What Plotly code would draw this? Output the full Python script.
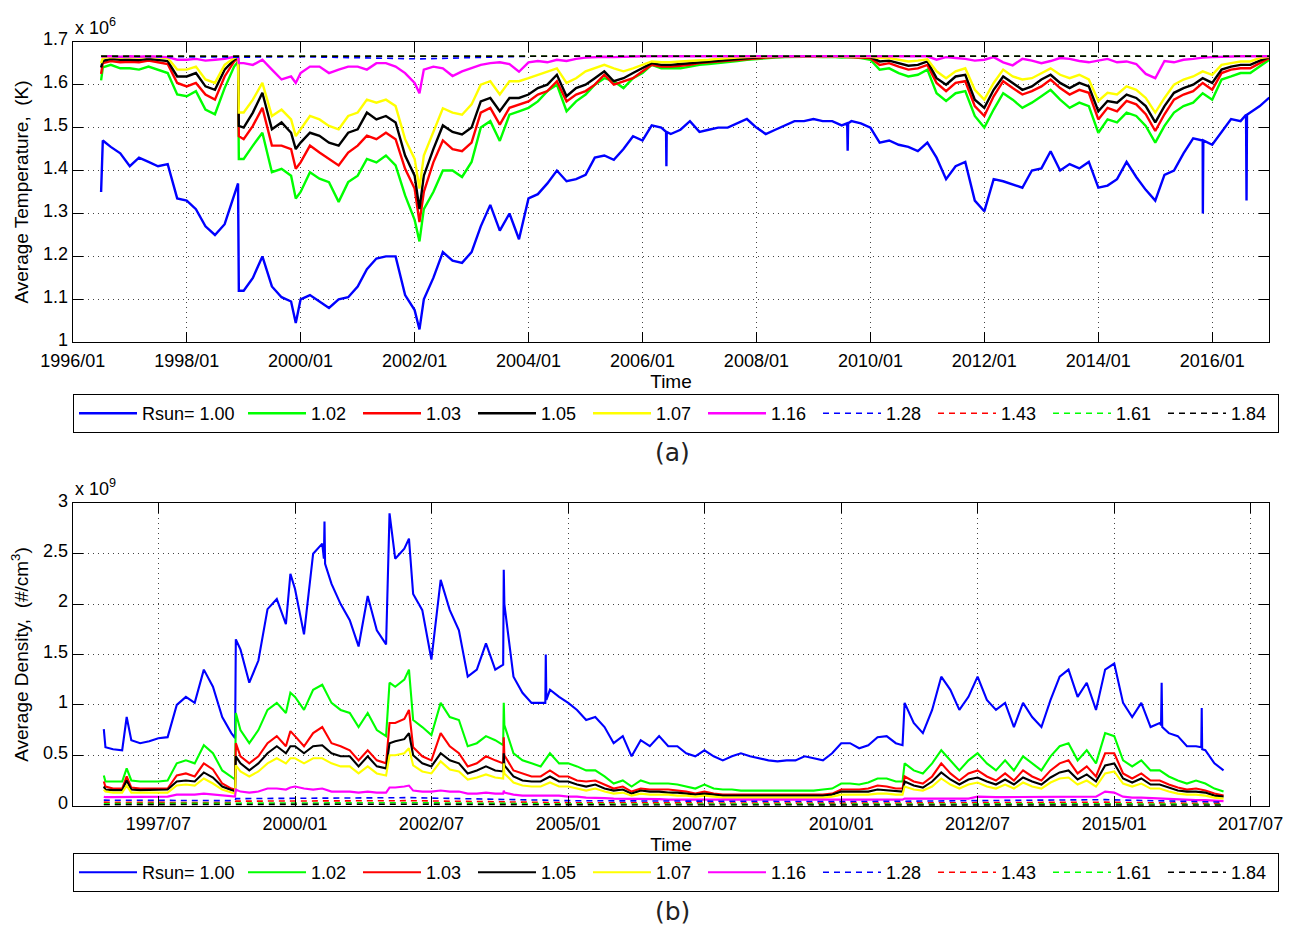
import pandas as pd
import plotly.graph_objects as go

# ---------------- sampling grid (every 2 months) + extra sample dates ----------------
BASE_START, BASE_END = "1996-07-01", "2017-01-01"
EXTRA_A = ["1996-07-12", "1998-11-26", "1998-12-01", "1999-12-01", "2002-02-01"]
EXTRA_B = ["1996-07-12", "1996-12-01", "1998-11-26", "1998-12-01", "1999-12-01",
           "2001-09-24", "2002-02-01", "2003-10-24", "2003-10-28", "2011-02-15"]

LABELS = ["Rsun= 1.00", "1.02", "1.03", "1.05", "1.07", "1.16", "1.28", "1.43", "1.61", "1.84"]

# ---------------- Panel (a): average temperature, units of 10^6 K ----------------
TEMP_100 = [
    1.35, 1.47, 1.455, 1.44,
    1.41, 1.43, 1.42, 1.41, 1.415, 1.335,
    1.33, 1.31, 1.27, 1.25, 1.275, 1.345, 1.37, 1.12,
    1.12, 1.15, 1.20, 1.13, 1.105, 1.095, 1.045,
    1.10, 1.11, 1.095, 1.08, 1.10, 1.105,
    1.13, 1.17, 1.195, 1.20, 1.20, 1.11,
    1.075, 1.03, 1.10, 1.15, 1.21, 1.19, 1.185,
    1.21, 1.27, 1.32, 1.26, 1.30, 1.24,
    1.335, 1.345, 1.37, 1.40, 1.375, 1.38,
    1.39, 1.43, 1.435, 1.425, 1.45, 1.48,
    1.47, 1.505, 1.50, 1.485, 1.495, 1.515,
    1.49, 1.495, 1.50, 1.50, 1.51, 1.52,
    1.50, 1.485, 1.495, 1.505, 1.515, 1.515,
    1.52, 1.515, 1.515, 1.505, 1.515, 1.51,
    1.50, 1.465, 1.47, 1.46, 1.455, 1.445,
    1.465, 1.43, 1.38, 1.41, 1.42, 1.33,
    1.305, 1.38, 1.375, 1.368, 1.36, 1.40,
    1.405, 1.445, 1.40, 1.415, 1.405, 1.42,
    1.36, 1.365, 1.38, 1.42, 1.385, 1.355,
    1.33, 1.39, 1.40, 1.44, 1.475, 1.47,
    1.46, 1.49, 1.52, 1.515, 1.535, 1.55,
    1.57,
]
TEMP_100_SPIKE_DATES = ["2006-06-01", "2006-06-03", "2006-06-05", "2009-08-05", "2009-08-08", "2009-08-11",
                        "2015-10-30", "2015-11-02", "2015-11-05", "2016-08-05", "2016-08-08", "2016-08-11"]
TEMP_100_SPIKE_VALS = [1.49, 1.41, 1.49, 1.51, 1.446, 1.51, 1.47, 1.30, 1.47, 1.53, 1.33, 1.53]

TEMP_102 = [
    1.61, 1.64, 1.646, 1.638,
    1.638, 1.635, 1.642, 1.635, 1.627, 1.577,
    1.573, 1.585, 1.542, 1.531, 1.592, 1.642, 1.654, 1.427,
    1.427, 1.458, 1.488, 1.396, 1.404, 1.388, 1.335,
    1.35, 1.396, 1.381, 1.373, 1.327, 1.373,
    1.388, 1.427, 1.419, 1.435, 1.412, 1.342,
    1.285, 1.235, 1.31, 1.35, 1.40, 1.40, 1.385,
    1.42, 1.50, 1.515, 1.469, 1.53, 1.538,
    1.546, 1.561, 1.585, 1.60, 1.538, 1.561,
    1.577, 1.60, 1.615, 1.608, 1.592, 1.615,
    1.627, 1.646, 1.638, 1.638, 1.638, 1.642,
    1.646, 1.648, 1.65, 1.652, 1.655, 1.658,
    1.66, 1.662, 1.663, 1.664, 1.665, 1.665,
    1.665, 1.664, 1.665, 1.663, 1.664, 1.662,
    1.658, 1.635, 1.638, 1.627, 1.619, 1.623,
    1.635, 1.58, 1.562, 1.58, 1.585, 1.527,
    1.50, 1.542, 1.58, 1.565, 1.546, 1.558,
    1.573, 1.588, 1.565, 1.546, 1.558, 1.55,
    1.488, 1.519, 1.512, 1.535, 1.527, 1.504,
    1.465, 1.504, 1.535, 1.55, 1.558, 1.58,
    1.565, 1.612, 1.619, 1.627, 1.627, 1.642,
    1.658,
]

TEMP_103 = [
    1.625, 1.65, 1.655, 1.652,
    1.653, 1.652, 1.656, 1.652, 1.648, 1.604,
    1.596, 1.604, 1.577, 1.565, 1.619, 1.654, 1.662, 1.48,
    1.473, 1.504, 1.546, 1.458, 1.458, 1.45, 1.404,
    1.419, 1.458, 1.442, 1.427, 1.412, 1.442,
    1.458, 1.481, 1.473, 1.488, 1.473, 1.404,
    1.358, 1.28, 1.35, 1.419, 1.47, 1.45, 1.445,
    1.465, 1.535, 1.546, 1.507, 1.546, 1.554,
    1.561, 1.577, 1.585, 1.608, 1.561, 1.577,
    1.585, 1.60, 1.623, 1.60, 1.608, 1.615,
    1.631, 1.646, 1.642, 1.642, 1.644, 1.646,
    1.65, 1.652, 1.654, 1.656, 1.658, 1.66,
    1.662, 1.663, 1.664, 1.665, 1.666, 1.666,
    1.666, 1.665, 1.666, 1.665, 1.665, 1.664,
    1.662, 1.646, 1.65, 1.642, 1.635, 1.638,
    1.646, 1.604, 1.585, 1.604, 1.608, 1.55,
    1.527, 1.573, 1.608, 1.592, 1.577, 1.585,
    1.596, 1.612, 1.592, 1.577, 1.588, 1.581,
    1.519, 1.546, 1.538, 1.562, 1.554, 1.531,
    1.492, 1.531, 1.565, 1.577, 1.585, 1.604,
    1.588, 1.627, 1.635, 1.638, 1.638, 1.65,
    1.662,
]

TEMP_105 = [
    1.64, 1.655, 1.66, 1.658,
    1.658, 1.657, 1.66, 1.657, 1.655, 1.619,
    1.619, 1.627, 1.596, 1.588, 1.635, 1.658, 1.664, 1.504,
    1.50, 1.535, 1.581, 1.496, 1.512, 1.488, 1.45,
    1.465, 1.488, 1.481, 1.465, 1.458, 1.488,
    1.496, 1.535, 1.519, 1.527, 1.512, 1.435,
    1.388, 1.31, 1.388, 1.45, 1.505, 1.49, 1.484,
    1.50, 1.561, 1.569, 1.538, 1.569, 1.569,
    1.577, 1.592, 1.60, 1.623, 1.573, 1.592,
    1.60, 1.615, 1.631, 1.608, 1.615, 1.627,
    1.638, 1.65, 1.646, 1.646, 1.648, 1.65,
    1.652, 1.654, 1.656, 1.658, 1.66, 1.662,
    1.664, 1.665, 1.666, 1.666, 1.666, 1.666,
    1.666, 1.666, 1.666, 1.666, 1.666, 1.665,
    1.664, 1.654, 1.656, 1.65, 1.644, 1.646,
    1.654, 1.615, 1.60, 1.619, 1.623, 1.565,
    1.546, 1.588, 1.619, 1.604, 1.588, 1.596,
    1.612, 1.623, 1.604, 1.592, 1.604, 1.596,
    1.538, 1.562, 1.558, 1.577, 1.569, 1.55,
    1.512, 1.55, 1.581, 1.592, 1.60, 1.615,
    1.604, 1.635, 1.642, 1.646, 1.646, 1.656,
    1.664,
]

TEMP_107 = [
    1.65, 1.662, 1.664, 1.663,
    1.664, 1.663, 1.665, 1.663, 1.662, 1.635,
    1.635, 1.642, 1.612, 1.604, 1.646, 1.662, 1.665, 1.535,
    1.535, 1.565, 1.604, 1.527, 1.542, 1.519, 1.48,
    1.496, 1.527, 1.519, 1.504, 1.496, 1.527,
    1.535, 1.565, 1.558, 1.565, 1.55, 1.473,
    1.427, 1.358, 1.435, 1.488, 1.545, 1.535, 1.53,
    1.554, 1.60, 1.608, 1.577, 1.608, 1.608,
    1.615, 1.623, 1.631, 1.638, 1.604, 1.615,
    1.631, 1.638, 1.646, 1.638, 1.631, 1.638,
    1.646, 1.654, 1.652, 1.652, 1.654, 1.655,
    1.657, 1.658, 1.66, 1.662, 1.663, 1.664,
    1.665, 1.666, 1.666, 1.666, 1.666, 1.666,
    1.666, 1.666, 1.666, 1.666, 1.666, 1.666,
    1.665, 1.662, 1.662, 1.658, 1.654, 1.656,
    1.659, 1.631, 1.615, 1.631, 1.638, 1.588,
    1.565, 1.604, 1.635, 1.619, 1.612, 1.615,
    1.627, 1.638, 1.623, 1.615, 1.623, 1.612,
    1.562, 1.581, 1.577, 1.596, 1.588, 1.569,
    1.535, 1.569, 1.60, 1.612, 1.619, 1.631,
    1.623, 1.646, 1.65, 1.654, 1.654, 1.662,
    1.665,
]

TEMP_116 = [
    1.665, 1.666, 1.666, 1.665,
    1.666, 1.665, 1.666, 1.665, 1.664, 1.658,
    1.658, 1.66, 1.656, 1.658, 1.66, 1.665, 1.666, 1.65,
    1.65, 1.646, 1.658, 1.635, 1.612, 1.619, 1.604,
    1.627, 1.642, 1.642, 1.627, 1.635, 1.642,
    1.642, 1.635, 1.65, 1.65, 1.642, 1.627,
    1.604, 1.58, 1.635, 1.642, 1.638, 1.62, 1.631,
    1.638, 1.646, 1.65, 1.652, 1.648, 1.63,
    1.652, 1.655, 1.652, 1.658, 1.655, 1.66,
    1.663, 1.664, 1.665, 1.664, 1.665, 1.666,
    1.666, 1.666, 1.666, 1.666, 1.666, 1.666,
    1.666, 1.666, 1.666, 1.666, 1.666, 1.666,
    1.666, 1.666, 1.666, 1.666, 1.666, 1.666,
    1.666, 1.666, 1.666, 1.666, 1.666, 1.666,
    1.666, 1.666, 1.666, 1.666, 1.665, 1.666,
    1.666, 1.658, 1.664, 1.662, 1.66, 1.656,
    1.658, 1.664, 1.652, 1.645, 1.66, 1.656,
    1.65, 1.655, 1.662, 1.66, 1.655, 1.652,
    1.656, 1.66, 1.652, 1.654, 1.648, 1.625,
    1.615, 1.655, 1.652, 1.658, 1.66, 1.663,
    1.664, 1.665, 1.666, 1.666, 1.666, 1.666,
    1.666,
]

DASH_A_DATES = ["1996-07-01", "1998-12-01", "2000-01-01", "2002-02-01", "2004-01-01",
                "2008-01-01", "2012-01-01", "2017-01-01"]
TEMP_128 = [1.666, 1.664, 1.665, 1.660, 1.666, 1.666, 1.666, 1.666]
TEMP_143 = [1.666, 1.666, 1.666, 1.666, 1.666, 1.666, 1.666, 1.666]
TEMP_161 = [1.666, 1.666, 1.666, 1.666, 1.666, 1.666, 1.666, 1.666]
TEMP_184 = [1.666, 1.666, 1.666, 1.666, 1.666, 1.666, 1.666, 1.666]

# ---------------- Panel (b): average density, units of 10^9 /cm^3 ----------------
DENS_100 = [
    0.76, 0.58, 0.56, 0.55, 0.88,
    0.65, 0.62, 0.64, 0.67, 0.68, 1.0,
    1.08, 1.02, 1.35, 1.18, 0.88, 0.72, 0.67, 1.65,
    1.55, 1.22, 1.44, 1.95, 2.05, 1.80, 2.30,
    2.15, 1.7, 2.5, 2.6, 2.2, 2.0,
    1.84, 1.58, 2.08, 1.74, 1.6, 2.9, 2.45,
    2.55, 2.65, 2.1, 1.94, 1.45, 2.24, 1.94,
    1.74, 1.28, 1.35, 1.61, 1.35, 1.4, 2.34, 2.0,
    1.28, 1.12, 1.02, 1.02, 1.15, 1.08,
    1.02, 0.95, 0.85, 0.88, 0.78, 0.62,
    0.69, 0.49, 0.65, 0.59, 0.69, 0.59,
    0.59, 0.52, 0.49, 0.55, 0.49, 0.45,
    0.49, 0.52, 0.49, 0.47, 0.45, 0.44,
    0.45, 0.45, 0.49, 0.47, 0.45, 0.52,
    0.62, 0.62, 0.57, 0.6, 0.68, 0.69,
    0.62, 0.6, 1.02, 0.82, 0.72, 0.95, 1.28,
    1.15, 0.95, 1.08, 1.28, 1.05, 0.95,
    1.02, 0.78, 1.02, 0.88, 0.78, 1.05,
    1.28, 1.35, 1.08, 1.22, 0.95, 1.35,
    1.41, 1.02, 0.88, 1.02, 0.78, 0.82,
    0.72, 0.69, 0.59, 0.59, 0.55, 0.42,
    0.35,
]
DENS_100_SPIKE_DATES = ["2000-07-12", "2000-07-16", "2000-07-20", "2004-08-01", "2004-08-04", "2004-08-08",
                        "2015-11-10", "2015-11-14", "2015-11-18", "2016-08-05", "2016-08-08", "2016-08-11"]
DENS_100_SPIKE_VALS = [2.45, 2.82, 2.4, 1.02, 1.5, 1.05, 0.8, 1.22, 0.78, 0.58, 0.97, 0.56]

DENS_102 = [
    0.30, 0.24, 0.24, 0.24, 0.37,
    0.25, 0.24, 0.24, 0.24, 0.25, 0.42,
    0.45, 0.42, 0.6, 0.52, 0.35, 0.28, 0.26, 0.92,
    0.75, 0.62, 0.75, 0.95, 1.02, 0.92, 1.12,
    1.08, 0.95, 1.15, 1.2, 1.02, 0.95,
    0.92, 0.78, 0.92, 0.75, 0.69, 1.22, 1.18,
    1.25, 1.35, 0.85, 0.78, 0.7, 1.02, 0.88,
    0.85, 0.59, 0.62, 0.69, 0.65, 0.6, 1.02, 0.8,
    0.52, 0.45, 0.42, 0.39, 0.52, 0.42,
    0.42, 0.39, 0.35, 0.35, 0.29, 0.22,
    0.25, 0.19, 0.25, 0.22, 0.22, 0.22,
    0.21, 0.19, 0.17, 0.21, 0.17, 0.16,
    0.16, 0.15, 0.15, 0.15, 0.15, 0.15,
    0.15, 0.15, 0.15, 0.15, 0.16, 0.17,
    0.22, 0.22, 0.21, 0.23, 0.27, 0.27,
    0.24, 0.24, 0.42, 0.35, 0.32, 0.42, 0.55,
    0.45, 0.35, 0.45, 0.52, 0.42, 0.35,
    0.45, 0.35, 0.49, 0.42, 0.35, 0.49,
    0.59, 0.62, 0.45, 0.55, 0.42, 0.72,
    0.69, 0.45, 0.39, 0.45, 0.35, 0.35,
    0.29, 0.25, 0.22, 0.25, 0.22, 0.17,
    0.14,
]

DENS_103 = [
    0.24, 0.19, 0.17, 0.17, 0.29,
    0.18, 0.17, 0.17, 0.17, 0.17, 0.30,
    0.32, 0.29, 0.42, 0.36, 0.22, 0.17, 0.16, 0.62,
    0.49, 0.42, 0.49, 0.62, 0.69, 0.59, 0.74,
    0.69, 0.59, 0.72, 0.78, 0.62, 0.59,
    0.55, 0.45, 0.55, 0.45, 0.42, 0.82, 0.82,
    0.86, 0.95, 0.58, 0.49, 0.45, 0.72, 0.59,
    0.52, 0.39, 0.42, 0.49, 0.45, 0.42, 0.68, 0.5,
    0.35, 0.32, 0.29, 0.29, 0.35, 0.29,
    0.29, 0.25, 0.24, 0.25, 0.21, 0.17,
    0.19, 0.14, 0.17, 0.16, 0.16, 0.16,
    0.15, 0.14, 0.12, 0.14, 0.12, 0.11,
    0.11, 0.11, 0.11, 0.11, 0.11, 0.11,
    0.11, 0.11, 0.11, 0.11, 0.11, 0.12,
    0.16, 0.16, 0.16, 0.17, 0.2, 0.19,
    0.17, 0.17, 0.29, 0.24, 0.22, 0.29, 0.42,
    0.32, 0.25, 0.32, 0.35, 0.29, 0.25,
    0.32, 0.25, 0.35, 0.29, 0.25, 0.35,
    0.42, 0.45, 0.32, 0.39, 0.29, 0.52,
    0.52, 0.32, 0.27, 0.32, 0.25, 0.25,
    0.21, 0.18, 0.16, 0.17, 0.15, 0.12,
    0.10,
]

DENS_105 = [
    0.19, 0.16, 0.155, 0.155, 0.25,
    0.16, 0.155, 0.155, 0.16, 0.16, 0.24,
    0.25, 0.24, 0.33, 0.28, 0.19, 0.155, 0.145, 0.49,
    0.42, 0.35, 0.42, 0.52, 0.59, 0.52, 0.59,
    0.59, 0.52, 0.59, 0.6, 0.52, 0.49,
    0.49, 0.39, 0.49, 0.39, 0.37, 0.62, 0.64,
    0.66, 0.72, 0.5, 0.42, 0.39, 0.52, 0.45,
    0.42, 0.32, 0.35, 0.39, 0.35, 0.34, 0.52, 0.4,
    0.29, 0.25, 0.24, 0.24, 0.29, 0.24,
    0.24, 0.21, 0.19, 0.21, 0.17, 0.15,
    0.16, 0.12, 0.15, 0.14, 0.14, 0.13,
    0.13, 0.12, 0.11, 0.12, 0.11, 0.10,
    0.10, 0.10, 0.10, 0.10, 0.10, 0.10,
    0.10, 0.10, 0.10, 0.10, 0.10, 0.11,
    0.14, 0.14, 0.14, 0.14, 0.16, 0.15,
    0.14, 0.14, 0.24, 0.2, 0.18, 0.24, 0.33,
    0.26, 0.21, 0.26, 0.28, 0.24, 0.21,
    0.26, 0.21, 0.28, 0.24, 0.21, 0.28,
    0.33, 0.35, 0.26, 0.31, 0.24, 0.40,
    0.42, 0.27, 0.23, 0.27, 0.21, 0.21,
    0.18, 0.15, 0.14, 0.14, 0.13, 0.10,
    0.09,
]

DENS_107 = [
    0.16, 0.14, 0.13, 0.13, 0.2,
    0.13, 0.13, 0.13, 0.13, 0.13, 0.2,
    0.21, 0.2, 0.27, 0.22, 0.16, 0.13, 0.12, 0.40,
    0.34, 0.29, 0.34, 0.42, 0.47, 0.42, 0.47,
    0.47, 0.42, 0.47, 0.47, 0.42, 0.39,
    0.39, 0.32, 0.39, 0.32, 0.3, 0.5, 0.5,
    0.52, 0.57, 0.4, 0.34, 0.32, 0.44, 0.36,
    0.34, 0.26, 0.28, 0.31, 0.28, 0.27, 0.42, 0.32,
    0.23, 0.2, 0.19, 0.19, 0.23, 0.19,
    0.19, 0.17, 0.15, 0.17, 0.14, 0.12,
    0.13, 0.10, 0.12, 0.11, 0.11, 0.11,
    0.10, 0.10, 0.09, 0.10, 0.09, 0.08,
    0.08, 0.08, 0.08, 0.08, 0.08, 0.08,
    0.08, 0.08, 0.08, 0.08, 0.08, 0.09,
    0.11, 0.11, 0.11, 0.11, 0.12, 0.12,
    0.11, 0.11, 0.19, 0.16, 0.15, 0.19, 0.27,
    0.21, 0.17, 0.21, 0.23, 0.19, 0.17,
    0.21, 0.17, 0.23, 0.19, 0.17, 0.23,
    0.27, 0.28, 0.21, 0.25, 0.19, 0.32,
    0.34, 0.22, 0.19, 0.22, 0.17, 0.17,
    0.14, 0.12, 0.11, 0.11, 0.10, 0.08,
    0.07,
]

DENS_116 = [
    0.09, 0.085, 0.085, 0.085, 0.09,
    0.085, 0.085, 0.085, 0.085, 0.09, 0.11,
    0.11, 0.11, 0.12, 0.11, 0.10, 0.09, 0.09, 0.16,
    0.14, 0.13, 0.14, 0.17, 0.17, 0.16, 0.18,
    0.19, 0.17, 0.16, 0.17, 0.14, 0.14,
    0.14, 0.13, 0.14, 0.13, 0.13, 0.18, 0.18,
    0.19, 0.2, 0.15, 0.14, 0.14, 0.15, 0.14,
    0.14, 0.12, 0.12, 0.13, 0.12, 0.12, 0.15, 0.13,
    0.11, 0.10, 0.10, 0.10, 0.10, 0.10,
    0.09, 0.09, 0.08, 0.08, 0.075, 0.07,
    0.07, 0.065, 0.065, 0.065, 0.065, 0.06,
    0.06, 0.06, 0.06, 0.06, 0.06, 0.055,
    0.055, 0.055, 0.055, 0.055, 0.055, 0.055,
    0.055, 0.055, 0.055, 0.055, 0.055, 0.055,
    0.06, 0.06, 0.06, 0.06, 0.06, 0.06,
    0.06, 0.06, 0.07, 0.07, 0.07, 0.07, 0.075,
    0.075, 0.07, 0.07, 0.09, 0.085, 0.085,
    0.085, 0.085, 0.085, 0.085, 0.085, 0.085,
    0.09, 0.09, 0.085, 0.09, 0.09, 0.14,
    0.13, 0.09, 0.08, 0.08, 0.075, 0.07,
    0.065, 0.06, 0.06, 0.055, 0.055, 0.05,
    0.045,
]

DASH_B_DATES = ["1996-07-01", "1998-11-26", "1998-12-01", "2002-02-01", "2005-01-01",
                "2010-01-01", "2014-11-01", "2017-01-01"]
DENS_128 = [0.055, 0.05, 0.07, 0.08, 0.05, 0.04, 0.06, 0.035]
DENS_143 = [0.035, 0.03, 0.045, 0.05, 0.03, 0.025, 0.035, 0.02]
DENS_161 = [0.02, 0.018, 0.025, 0.03, 0.018, 0.015, 0.02, 0.012]
DENS_184 = [0.01, 0.008, 0.012, 0.015, 0.008, 0.006, 0.01, 0.005]

# ---------------- axis ticks ----------------
XA_TICKS = ["1996-01-01", "1998-01-01", "2000-01-01", "2002-01-01", "2004-01-01", "2006-01-01",
            "2008-01-01", "2010-01-01", "2012-01-01", "2014-01-01", "2016-01-01"]
XA_TICKTEXT = ["1996/01", "1998/01", "2000/01", "2002/01", "2004/01", "2006/01",
               "2008/01", "2010/01", "2012/01", "2014/01", "2016/01"]
XB_TICKS = ["1997-07-01", "2000-01-01", "2002-07-01", "2005-01-01", "2007-07-01",
            "2010-01-01", "2012-07-01", "2015-01-01", "2017-07-01"]
XB_TICKTEXT = ["1997/07", "2000/01", "2002/07", "2005/01", "2007/07",
               "2010/01", "2012/07", "2015/01", "2017/07"]
YA_TICKS = [1.0, 1.1, 1.2, 1.3, 1.4, 1.5, 1.6, 1.7]
YA_TICKTEXT = ["1", "1.1", "1.2", "1.3", "1.4", "1.5", "1.6", "1.7"]
YB_TICKS = [0, 0.5, 1, 1.5, 2, 2.5, 3]
YB_TICKTEXT = ["0", "0.5", "1", "1.5", "2", "2.5", "3"]

# ---------------- build ----------------
def make_grid(extra):
    d = list(pd.date_range(BASE_START, BASE_END, freq="2MS")) + list(pd.to_datetime(extra))
    return sorted(d)

def with_spikes(dates, vals, sdates, svals):
    pairs = sorted(zip(list(dates) + list(pd.to_datetime(sdates)), list(vals) + list(svals)))
    return [p[0] for p in pairs], [p[1] for p in pairs]

grid_a = make_grid(EXTRA_A)
grid_b = make_grid(EXTRA_B)
for s in [TEMP_100, TEMP_102, TEMP_103, TEMP_105, TEMP_107, TEMP_116]:
    assert len(s) == len(grid_a), (len(s), len(grid_a))
for s in [DENS_100, DENS_102, DENS_103, DENS_105, DENS_107, DENS_116]:
    assert len(s) == len(grid_b), (len(s), len(grid_b))

COLORS = ["#0000FF", "#00FF00", "#FF0000", "#000000", "#FFFF00", "#FF00FF",
          "#0000FF", "#FF0000", "#00FF00", "#000000"]
FONT = "Liberation Sans, Arial, sans-serif"

fig = go.Figure()

def add_panel(xs_list, ys_list, xaxis, yaxis, legend, solid_w):
    for i, (xs, ys) in enumerate(zip(xs_list, ys_list)):
        dashed = i >= 6
        fig.add_trace(go.Scatter(
            x=xs, y=ys, mode="lines", name=LABELS[i],
            xaxis=xaxis, yaxis=yaxis, legend=legend,
            legendwidth=96 if i == 0 else 42,
            line=dict(color=COLORS[i], width=1.6 if dashed else solid_w,
                      dash="6px,5px" if dashed else "solid"),
            hoverinfo="skip",
        ))

ta_blue_x, ta_blue_y = with_spikes(grid_a, TEMP_100, TEMP_100_SPIKE_DATES, TEMP_100_SPIKE_VALS)
dash_a = list(pd.to_datetime(DASH_A_DATES))
add_panel(
    [ta_blue_x, grid_a, grid_a, grid_a, grid_a, grid_a, dash_a, dash_a, dash_a, dash_a],
    [ta_blue_y, TEMP_102, TEMP_103, TEMP_105, TEMP_107, TEMP_116, TEMP_128, TEMP_143, TEMP_161, TEMP_184],
    "x", "y", "legend", 2.4)

tb_blue_x, tb_blue_y = with_spikes(grid_b, DENS_100, DENS_100_SPIKE_DATES, DENS_100_SPIKE_VALS)
dash_b = list(pd.to_datetime(DASH_B_DATES))
add_panel(
    [tb_blue_x, grid_b, grid_b, grid_b, grid_b, grid_b, dash_b, dash_b, dash_b, dash_b],
    [tb_blue_y, DENS_102, DENS_103, DENS_105, DENS_107, DENS_116, DENS_128, DENS_143, DENS_161, DENS_184],
    "x2", "y2", "legend2", 2.1)

# page has an 8px body margin: figure is 1292x925 placed at (8, 8)
OFF = 8
W, H = 1300 - OFF, 933 - OFF

def px(X):
    return (X - OFF) / W

def py(Y):
    return 1 - (Y - OFF) / H

XDOM = [px(72.7), px(1269.3)]
YDOM_A = [py(342.3), py(41.7)]
YDOM_B = [py(805.7), py(503.3)]

axis_common = dict(
    showline=True, linecolor="black", linewidth=1, mirror="ticks",
    ticks="inside", ticklen=10, tickwidth=1, tickcolor="black",
    showgrid=True, gridcolor="#444444", gridwidth=1, griddash="1px,4px",
    zeroline=False, tickfont=dict(family=FONT, size=18, color="black"),
    title_font=dict(family=FONT, size=19, color="black"),
)

legend_common = dict(
    orientation="h", xanchor="left", yanchor="top", x=px(73),
    bgcolor="white", bordercolor="black", borderwidth=1,
    font=dict(family=FONT, size=18, color="black"),
    itemwidth=58, tracegroupgap=0, itemclick=False, itemdoubleclick=False,
)

fig.update_layout(
    width=W, height=H, showlegend=True,
    paper_bgcolor="white", plot_bgcolor="white",
    margin=dict(l=0, r=0, t=0, b=0, autoexpand=False),
    xaxis=dict(domain=XDOM, anchor="y", type="date", range=["1996-01-01", "2017-01-01"],
               tickvals=XA_TICKS, ticktext=XA_TICKTEXT, ticklabelstandoff=2,
               title=dict(text="Time", standoff=2), **axis_common),
    yaxis=dict(domain=YDOM_A, anchor="x", range=[1.0, 1.7],
               tickvals=YA_TICKS, ticktext=YA_TICKTEXT, ticklabelshift=-3,
               title=dict(text="Average Temperature,\u00a0 (K)", standoff=9), **axis_common),
    xaxis2=dict(domain=XDOM, anchor="y2", type="date", range=["1995-12-06", "2017-11-03"],
                tickvals=XB_TICKS, ticktext=XB_TICKTEXT, ticklabelstandoff=2,
                title=dict(text="Time", standoff=2), **axis_common),
    yaxis2=dict(domain=YDOM_B, anchor="x2", range=[0, 3],
                tickvals=YB_TICKS, ticktext=YB_TICKTEXT, ticklabelshift=-3,
                title=dict(text="Average Density,\u00a0 (#/cm<sup>3</sup>)", standoff=9), **axis_common),
    legend=dict(y=py(394), **legend_common),
    legend2=dict(y=py(853), **legend_common),
    annotations=[
        dict(text="x 10<sup>6</sup>", xref="paper", yref="paper", x=px(73), y=py(26),
             xanchor="left", yanchor="middle", showarrow=False,
             font=dict(family=FONT, size=18, color="black")),
        dict(text="x 10<sup>9</sup>", xref="paper", yref="paper", x=px(73), y=py(487),
             xanchor="left", yanchor="middle", showarrow=False,
             font=dict(family=FONT, size=18, color="black")),
        dict(text="(a)", xref="paper", yref="paper", x=px(673), y=py(452),
             xanchor="center", yanchor="middle", showarrow=False,
             font=dict(family="DejaVu Sans", size=25, color="#222222")),
        dict(text="(b)", xref="paper", yref="paper", x=px(673), y=py(911),
             xanchor="center", yanchor="middle", showarrow=False,
             font=dict(family="DejaVu Sans", size=25, color="#222222")),
    ],
)

fig.write_html("out.html")
